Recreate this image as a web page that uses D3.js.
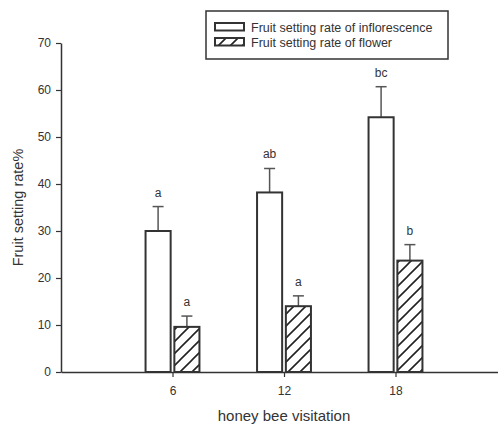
<!DOCTYPE html>
<html>
<head>
<meta charset="utf-8">
<script src="https://cdn.jsdelivr.net/npm/d3@7"></script>
<style>
  body { margin: 0; background: #fff; }
  svg { display: block; }
  text { font-family: "Liberation Sans", Arial, sans-serif; fill: #333; }
</style>
</head>
<body>
<svg id="chart" width="498" height="426"></svg>
<script>
const categories = [6, 12, 18];
const inflorescence = [30.0, 38.2, 54.2];
const inflorescenceErr = [5.2, 5.1, 6.5];
const inflorescenceLetters = ["a", "ab", "bc"];
const flower = [9.6, 14.0, 23.7];
const flowerErr = [2.3, 2.2, 3.4];
const flowerLetters = ["a", "a", "b"];
const yTicks = [0, 10, 20, 30, 40, 50, 60, 70];
const seriesNames = ["Fruit setting rate of inflorescence", "Fruit setting rate of flower"];

const svg = d3.select("#chart");
const ink = "#333";

const x = d3.scaleLinear().domain([0, 24]).range([61, 507]);
const y = d3.scaleLinear().domain([0, 70]).range([372, 43]);

// hatch pattern
const defs = svg.append("defs");
const pat = defs.append("pattern")
  .attr("id", "hatch").attr("patternUnits", "userSpaceOnUse")
  .attr("width", 12).attr("height", 12);
pat.append("path").attr("d", "M-3,3 L3,-3 M0,12 L12,0 M9,15 L15,9")
  .attr("stroke", "#222").attr("stroke-width", 1.6);

// axes
const yAxis = svg.append("g").attr("transform", `translate(${x(0)},0)`)
  .call(d3.axisLeft(y).tickValues(yTicks).tickSize(5).tickSizeOuter(0).tickPadding(5));
yAxis.select(".domain").attr("stroke", ink).attr("stroke-width", 1.5);
yAxis.selectAll(".tick line").attr("stroke", ink).attr("stroke-width", 1.2);
yAxis.selectAll(".tick text").style("font-size", "12px").attr("fill", "#333")
  .style("font-family", "'Liberation Sans', Arial, sans-serif");

const xAxis = svg.append("g").attr("transform", `translate(0,${y(0)})`)
  .call(d3.axisBottom(x).tickValues(categories).tickSize(5).tickSizeOuter(0).tickPadding(9));
xAxis.select(".domain").attr("stroke", ink).attr("stroke-width", 1.5);
xAxis.selectAll(".tick line").attr("stroke", ink).attr("stroke-width", 1.2);
xAxis.selectAll(".tick text").style("font-size", "12px").attr("fill", "#333")
  .style("font-family", "'Liberation Sans', Arial, sans-serif");

// bars
const barW = 1.35, gap = 0.1;
function drawSeries(vals, errs, letters, x0off, fill) {
  const g = svg.append("g");
  categories.forEach((c, i) => {
    const xl = x(c + x0off), xr = x(c + x0off + barW);
    const cx = (xl + xr) / 2;
    const et = y(vals[i] + errs[i]);
    g.append("line").attr("x1", cx).attr("x2", cx).attr("y1", y(vals[i])).attr("y2", et)
      .attr("stroke", "#555").attr("stroke-width", 1.5);
    g.append("line").attr("x1", cx - 5.5).attr("x2", cx + 5.5).attr("y1", et).attr("y2", et)
      .attr("stroke", "#555").attr("stroke-width", 1.5);
    g.append("rect").attr("x", xl).attr("y", y(vals[i]))
      .attr("width", xr - xl).attr("height", y(0) - y(vals[i]))
      .attr("fill", fill).attr("stroke", ink).attr("stroke-width", 2);
    g.append("text").attr("x", cx).attr("y", et - 10).attr("text-anchor", "middle")
      .style("font-size", "12px").text(letters[i]);
  });
}
drawSeries(inflorescence, inflorescenceErr, inflorescenceLetters, -barW - gap, "#fff");
drawSeries(flower, flowerErr, flowerLetters, gap, "url(#hatch)");

// axis titles
svg.append("text").attr("transform", `translate(23,${(y(0) + y(70)) / 2}) rotate(-90)`)
  .attr("text-anchor", "middle").style("font-size", "14.5px").text("Fruit setting rate%");
svg.append("text").attr("x", 284).attr("y", 421).attr("text-anchor", "middle")
  .style("font-size", "15px").text("honey bee visitation");

// legend
const lg = svg.append("g");
lg.append("rect").attr("x", 206).attr("y", 11).attr("width", 242).attr("height", 48)
  .attr("fill", "#fff").attr("stroke", ink).attr("stroke-width", 1.5);
const fills = ["#fff", "url(#hatch)"];
const rowY = [23, 38];
seriesNames.forEach((n, i) => {
  lg.append("rect").attr("x", 215).attr("y", rowY[i]).attr("width", 29).attr("height", 7.5)
    .attr("fill", fills[i]).attr("stroke", ink).attr("stroke-width", 2);
  lg.append("text").attr("x", 251).attr("y", rowY[i] + 8.5).style("font-size", "12.5px").text(n);
});
</script>
</body>
</html>
